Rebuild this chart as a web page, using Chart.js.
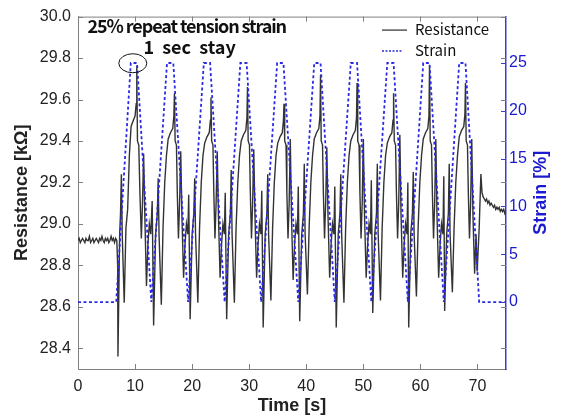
<!DOCTYPE html>
<html>
<head>
<meta charset="utf-8">
<script src="https://cdn.jsdelivr.net/npm/chart.js@4.4.1/dist/chart.umd.min.js"></script>
<style>
  html, body { margin: 0; padding: 0; background: #ffffff; }
  #wrap { width: 561px; height: 418px; }
</style>
</head>
<body>
<div id="wrap"><canvas id="c" width="561" height="418"></canvas></div>
<script>
// ---------------- data ----------------
const xTicks = [0, 10, 20, 30, 40, 50, 60, 70];
const resistanceTicks = [28.4, 28.6, 28.8, 29.0, 29.2, 29.4, 29.6, 29.8, 30.0];
const strainTicks = [0, 5, 10, 15, 20, 25];

// Resistance [kOhm] vs time [s]
const resistanceTime = [
  // baseline
  0,0.2,0.4,0.6,0.8,1.0,1.2,1.4,1.6,1.8,2.0,2.2,2.4,2.6,2.8,3.0,3.2,3.4,3.6,3.8,4.0,4.2,4.4,4.6,4.8,5.0,5.2,5.4,5.6,5.8,6.0,6.2,6.4,6.6,6.8,
  // cycle 1
  6.95,7.0,7.3,7.45,7.6,7.75,8.1,8.4,8.7,9.0,9.3,9.7,10.0,10.2,10.3,10.42,10.65,10.85,11.1,11.3,11.5,11.7,12.0,12.25,12.5,12.75,13.0,
  // cycle 2
  13.25,13.6,13.9,14.05,14.2,14.6,14.9,15.2,15.5,15.8,16.2,16.6,16.8,16.9,17.02,17.25,17.4,17.6,17.8,18.0,18.2,18.5,18.75,19.0,19.25,19.4,
  // cycle 3
  19.65,20.0,20.3,20.45,20.6,21.0,21.3,21.6,21.9,22.2,22.6,23.0,23.2,23.3,23.42,23.65,23.8,24.0,24.2,24.4,24.6,24.9,25.15,25.4,25.65,25.8,
  // cycle 4
  26.05,26.4,26.7,26.85,27.0,27.4,27.7,28.0,28.3,28.6,29.0,29.4,29.6,29.7,29.82,30.05,30.2,30.4,30.6,30.8,31.0,31.3,31.55,31.8,32.05,32.2,
  // cycle 5
  32.45,32.8,33.1,33.25,33.4,33.8,34.1,34.4,34.7,35.0,35.4,35.8,36.0,36.1,36.22,36.45,36.6,36.8,37.0,37.2,37.4,37.7,37.95,38.2,38.45,38.6,
  // cycle 6
  38.85,39.2,39.5,39.65,39.8,40.2,40.5,40.8,41.1,41.4,41.8,42.2,42.4,42.5,42.62,42.85,43.0,43.2,43.4,43.6,43.8,44.1,44.35,44.6,44.85,45.0,
  // cycle 7
  45.25,45.6,45.9,46.05,46.2,46.6,46.9,47.2,47.5,47.8,48.2,48.6,48.8,48.9,49.02,49.25,49.4,49.6,49.8,50.0,50.2,50.5,50.75,51.0,51.25,51.4,
  // cycle 8
  51.65,52.0,52.3,52.45,52.6,53.0,53.3,53.6,53.9,54.2,54.6,55.0,55.2,55.3,55.42,55.65,55.8,56.0,56.2,56.4,56.6,56.9,57.15,57.4,57.65,57.8,
  // cycle 9
  57.95,58.3,58.6,58.75,58.9,59.3,59.6,59.9,60.2,60.5,60.9,61.3,61.5,61.6,61.72,61.95,62.1,62.3,62.5,62.7,62.9,63.2,63.45,63.7,63.95,64.1,
  // cycle 10
  64.25,64.6,64.9,65.05,65.2,65.6,65.9,66.2,66.5,66.8,67.2,67.6,67.8,67.9,68.02,68.25,68.4,68.6,68.8,69.0,69.2,69.5,
  // release
  69.75,69.95,70.3,70.6,70.8,
  // tail
  71.0,71.2,71.4,71.6,71.8,72.0,72.2,72.4,72.6,72.8,73.0,73.2,73.4,73.6,73.8,74.0,74.2,74.4,74.6,74.8,75.0
];
const resistanceValue = [
  // baseline
  28.92,28.93,28.91,28.92,28.93,28.92,28.91,28.93,28.92,28.92,28.94,28.91,28.92,28.93,28.91,28.92,28.93,28.92,28.91,28.93,28.92,28.94,28.92,28.91,28.93,28.92,28.93,28.91,28.92,28.94,28.92,28.93,28.91,28.93,28.92,
  // cycle 1
  28.80,28.36,28.95,29.05,29.24,28.95,28.62,28.98,29.07,29.33,29.47,29.50,29.52,29.58,29.76,29.40,29.38,29.15,28.93,29.10,29.34,29.05,28.70,28.90,29.00,28.95,29.11,
  // cycle 2
  28.51,28.95,29.05,29.22,28.95,28.61,28.98,29.20,29.33,29.41,29.44,29.46,29.52,29.63,29.40,29.38,29.15,28.93,29.10,29.35,29.05,28.74,28.90,29.00,28.95,29.14,
  // cycle 3
  28.54,28.95,29.05,29.22,28.95,28.62,28.98,29.20,29.33,29.39,29.42,29.44,29.50,29.61,29.40,29.38,29.15,28.93,29.10,29.35,29.05,28.74,28.90,29.00,28.95,29.15,
  // cycle 4
  28.54,28.95,29.05,29.26,28.95,28.62,28.98,29.20,29.33,29.40,29.43,29.45,29.51,29.66,29.40,29.38,29.15,28.93,29.10,29.36,29.05,28.74,28.90,29.00,28.95,29.16,
  // cycle 5
  28.50,28.95,29.05,29.24,28.95,28.63,28.98,29.20,29.33,29.39,29.42,29.44,29.50,29.58,29.40,29.38,29.15,28.93,29.10,29.41,29.05,28.73,28.90,29.00,28.95,29.18,
  // cycle 6
  28.53,28.95,29.05,29.29,28.95,28.66,28.98,29.20,29.33,29.41,29.44,29.46,29.52,29.72,29.40,29.38,29.15,28.93,29.10,29.37,29.05,28.74,28.90,29.00,28.95,29.18,
  // cycle 7
  28.50,28.95,29.05,29.24,28.95,28.62,28.98,29.20,29.33,29.40,29.43,29.45,29.51,29.68,29.40,29.38,29.15,28.93,29.10,29.41,29.05,28.74,28.90,29.00,28.95,29.21,
  // cycle 8
  28.57,28.95,29.05,29.29,28.95,28.63,28.98,29.20,29.33,29.39,29.42,29.44,29.50,29.63,29.40,29.38,29.15,28.93,29.10,29.43,29.05,28.74,28.90,29.00,28.95,29.20,
  // cycle 9
  28.50,28.95,29.05,29.25,28.95,28.65,28.98,29.20,29.33,29.41,29.44,29.46,29.52,29.76,29.40,29.38,29.15,28.93,29.10,29.41,29.05,28.74,28.90,29.00,28.95,29.23,
  // cycle 10
  28.58,28.95,29.05,29.29,28.95,28.67,28.98,29.20,29.33,29.42,29.45,29.47,29.53,29.68,29.40,29.38,29.15,28.93,29.10,29.41,29.05,28.76,
  // release
  28.95,28.77,28.98,29.24,29.15,
  // tail
  29.13,29.12,29.11,29.12,29.10,29.11,29.09,29.10,29.09,29.08,29.09,29.07,29.08,29.07,29.08,29.06,29.07,29.06,29.07,29.05,29.06
];

// Strain [%] vs time [s]
const strainTime = [0,6.7,9.25,10.35,12.85,15.6,16.7,19.3,22.05,23.15,25.7,28.45,29.55,32.1,34.9,36.0,38.6,41.4,42.5,45.0,47.8,48.9,51.4,54.2,55.3,57.8,60.5,61.6,64.1,66.8,67.9,70.3,75];
const strainValue = [0,0,25,25,0,25,25,0,25,25,0,25,25,0,25,25,0,25,25,0,25,25,0,25,25,0,25,25,0,25,25,0,0];

const seriesNames = ['Resistance', 'Strain'];
const titleLines = ['25% repeat tension strain', '1 sec stay'];
const axisTitles = { x: 'Time [s]', left: 'Resistance [k\u03A9]', right: 'Strain [%]' };

// ---------------- chart ----------------
const resistancePoints = resistanceTime.map((t, i) => ({ x: t, y: resistanceValue[i] }));
const strainPoints = strainTime.map((t, i) => ({ x: t, y: strainValue[i] }));

const GRAY_AXIS = '#808080';
const BLUE_AXIS = '#3c3cc4';
const BLUE_TEXT = '#1a1ad0';
const RES_COLOR = '#333333';
const STRAIN_COLOR = '#2a2ae6';

const decor = {
  id: 'decor',
  afterDraw(chart) {
    const ctx = chart.ctx;
    const { left, right, top, bottom } = chart.chartArea;
    const xs = chart.scales.x, ys = chart.scales.y, ys1 = chart.scales.y1;
    ctx.save();
    // top border
    ctx.strokeStyle = GRAY_AXIS;
    ctx.lineWidth = 1;
    ctx.beginPath();
    ctx.moveTo(left, top + 0.5); ctx.lineTo(right, top + 0.5);
    ctx.stroke();
    // inward x ticks (bottom and top)
    ctx.beginPath();
    xTicks.forEach(v => {
      const px = Math.round(xs.getPixelForValue(v)) + 0.5;
      ctx.moveTo(px, bottom); ctx.lineTo(px, bottom - 5);
      ctx.moveTo(px, top); ctx.lineTo(px, top + 5);
    });
    // inward left ticks (left and mirrored at right)
    resistanceTicks.forEach(v => {
      const py = Math.round(ys.getPixelForValue(v)) + 0.5;
      ctx.moveTo(left, py); ctx.lineTo(left + 5, py);
      ctx.moveTo(right, py); ctx.lineTo(right - 5, py);
    });
    ctx.stroke();
    // right strain ticks
    ctx.strokeStyle = BLUE_AXIS;
    ctx.beginPath();
    strainTicks.forEach(v => {
      const py = Math.round(ys1.getPixelForValue(v)) + 0.5;
      ctx.moveTo(right, py); ctx.lineTo(right - 5, py);
    });
    ctx.stroke();

    // ellipse marking the first peak
    ctx.strokeStyle = '#111';
    ctx.lineWidth = 1;
    ctx.beginPath();
    ctx.ellipse(xs.getPixelForValue(9.6), ys.getPixelForValue(29.775), 14, 9.5, 0, 0, Math.PI * 2);
    ctx.stroke();

    // annotation text
    ctx.fillStyle = '#111';
    ctx.font = 'bold 18px "Noto Sans CJK KR", "Noto Sans", sans-serif';
    ctx.textBaseline = 'alphabetic';
    ctx.textAlign = 'left';
    ctx.letterSpacing = '-1.1px';
    ctx.fillText(titleLines[0], left + 9.5, top + 16.7);
    ctx.letterSpacing = '0px';
    ctx.wordSpacing = '4px';
    ctx.fillText(titleLines[1], left + 65.5, top + 37.7);
    ctx.wordSpacing = '0px';

    // legend
    const lx0 = right - 124, lx1 = right - 99, ltx = right - 91;
    ctx.strokeStyle = '#555';
    ctx.lineWidth = 1.5;
    ctx.setLineDash([]);
    ctx.beginPath(); ctx.moveTo(lx0, top + 13.5); ctx.lineTo(lx1, top + 13.5); ctx.stroke();
    ctx.strokeStyle = STRAIN_COLOR;
    ctx.lineWidth = 1.5;
    ctx.setLineDash([2, 1.5]);
    ctx.beginPath(); ctx.moveTo(lx0, top + 34.5); ctx.lineTo(lx1 - 4, top + 34.5); ctx.stroke();
    ctx.setLineDash([]);
    ctx.fillStyle = '#111';
    ctx.font = '15px "Noto Sans CJK KR", "Noto Sans", sans-serif';
    ctx.textAlign = 'left';
    ctx.textBaseline = 'middle';
    ctx.fillText(seriesNames[0], ltx, top + 13);
    ctx.fillText(seriesNames[1], ltx, top + 34);

    // right axis title (reads bottom to top)
    ctx.save();
    ctx.translate(541, (top + bottom) / 2);
    ctx.rotate(-Math.PI / 2);
    ctx.fillStyle = BLUE_TEXT;
    ctx.font = 'bold 18px "Liberation Sans", Arial, sans-serif';
    ctx.textAlign = 'center';
    ctx.textBaseline = 'middle';
    ctx.fillText(axisTitles.right, 0, 0);
    ctx.restore();

    ctx.restore();
  }
};

const tickFont = { family: '"Liberation Sans", Arial, sans-serif', size: 16 };
const titleFont = { family: '"Liberation Sans", Arial, sans-serif', size: 18, weight: 'bold' };

new Chart(document.getElementById('c').getContext('2d'), {
  type: 'line',
  data: {
    datasets: [
      {
        label: seriesNames[0],
        data: resistancePoints,
        yAxisID: 'y',
        borderColor: RES_COLOR,
        borderWidth: 1.4,
        pointRadius: 0,
        tension: 0,
        order: 1
      },
      {
        label: seriesNames[1],
        data: strainPoints,
        yAxisID: 'y1',
        borderColor: STRAIN_COLOR,
        borderWidth: 1.8,
        borderDash: [3, 2.5],
        pointRadius: 0,
        tension: 0,
        order: 0
      }
    ]
  },
  options: {
    responsive: false,
    animation: false,
    devicePixelRatio: 1,
    layout: { padding: { top: 14, left: 0, right: 0, bottom: 0 } },
    plugins: { legend: { display: false }, tooltip: { enabled: false } },
    scales: {
      x: {
        type: 'linear',
        min: 0, max: 75,
        afterBuildTicks: s => { s.ticks = xTicks.map(v => ({ value: v })); },
        afterFit: s => { s.height = 49; },
        grid: { display: false, drawTicks: false },
        border: { display: true, color: GRAY_AXIS, width: 1 },
        ticks: { font: tickFont, color: '#222', padding: 8, maxRotation: 0 },
        title: { display: true, text: axisTitles.x, font: titleFont, color: '#222', padding: { top: 0, bottom: 1 } }
      },
      y: {
        type: 'linear',
        position: 'left',
        min: 28.3, max: 30.0,
        afterBuildTicks: s => { s.ticks = resistanceTicks.map(v => ({ value: v })); },
        afterFit: s => { s.width = 78; },
        grid: { display: false, drawTicks: false },
        border: { display: true, color: GRAY_AXIS, width: 1 },
        ticks: { font: tickFont, color: '#222', padding: 7, callback: v => Number(v).toFixed(1) },
        title: { display: true, text: axisTitles.left, font: titleFont, color: '#222', padding: { top: 11, bottom: 0 } }
      },
      y1: {
        type: 'linear',
        position: 'right',
        min: -7, max: 29.85,
        afterBuildTicks: s => { s.ticks = strainTicks.map(v => ({ value: v })); },
        afterFit: s => { s.width = 55; },
        grid: { display: false, drawTicks: false },
        border: { display: true, color: BLUE_AXIS, width: 1.5 },
        ticks: { font: tickFont, color: BLUE_TEXT, padding: 3, callback: v => String(v) }
      }
    }
  },
  plugins: [decor]
});
</script>
</body>
</html>
